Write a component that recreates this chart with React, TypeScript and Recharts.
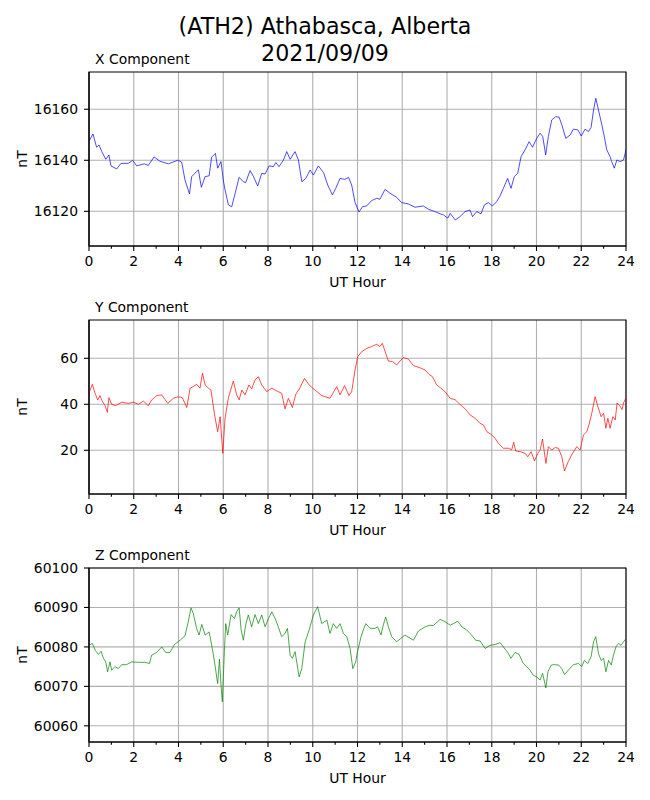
import React from 'react';
import { LineChart, Line, XAxis, YAxis, CartesianGrid, ReferenceArea } from 'recharts';

const FONT = '"DejaVu Sans", Verdana, sans-serif';

const hourTicks = [0, 1, 2, 3, 4, 5, 6, 7, 8, 9, 10, 11, 12, 13, 14, 15, 16, 17, 18, 19, 20, 21, 22, 23, 24];
const gridHours = [0, 2, 4, 6, 8, 10, 12, 14, 16, 18, 20, 22, 24];

const titleLines = ['(ATH2) Athabasca, Alberta', '2021/09/09'];

const xHours = [0, 0.18, 0.34, 0.45, 0.57, 0.75, 0.89, 0.98, 1.24, 1.43, 1.76, 1.95, 2.13, 2.47, 2.65, 2.91, 3.17, 3.55, 3.96, 4.14, 4.29, 4.49, 4.59, 4.81, 4.89, 5.02, 5.19, 5.37, 5.48, 5.65, 5.75, 5.9, 6.0, 6.08, 6.23, 6.38, 6.53, 6.71, 6.9, 7.0, 7.2, 7.35, 7.54, 7.72, 7.87, 8.05, 8.24, 8.35, 8.49, 8.68, 8.84, 8.99, 9.21, 9.36, 9.51, 9.69, 9.88, 10.03, 10.25, 10.48, 10.67, 10.88, 11.03, 11.22, 11.42, 11.6, 11.74, 11.89, 12.07, 12.22, 12.41, 12.63, 12.86, 13.0, 13.23, 13.45, 13.75, 13.97, 14.27, 14.57, 14.94, 15.17, 15.46, 15.69, 15.84, 16.04, 16.14, 16.37, 16.58, 16.81, 17.03, 17.14, 17.33, 17.52, 17.67, 17.85, 18.03, 18.22, 18.37, 18.52, 18.71, 18.86, 19.01, 19.16, 19.31, 19.49, 19.67, 19.82, 20.01, 20.16, 20.28, 20.41, 20.53, 20.68, 20.86, 21.01, 21.13, 21.31, 21.5, 21.65, 21.85, 22.0, 22.17, 22.32, 22.44, 22.55, 22.65, 22.77, 22.92, 23.03, 23.14, 23.29, 23.36, 23.48, 23.59, 23.74, 23.89, 24.0];
const xValues = [16147.5, 16150.3, 16145.1, 16146, 16143.4, 16140.4, 16142.1, 16137.8, 16136.6, 16138.8, 16138.8, 16140, 16137.8, 16138.6, 16138, 16141.3, 16139.6, 16138.6, 16140, 16139.3, 16132.3, 16126.8, 16133.6, 16135.6, 16136.2, 16129.4, 16133.6, 16133.9, 16141.2, 16142.7, 16136.9, 16139.5, 16132.3, 16128.4, 16122.5, 16121.8, 16127, 16133.3, 16131.6, 16131.2, 16136, 16133.6, 16129.9, 16134.9, 16134.6, 16137.8, 16137.5, 16139.1, 16137.5, 16139.9, 16143.4, 16140.4, 16143.4, 16140.1, 16131.6, 16132.9, 16136.2, 16134.2, 16137.8, 16135.2, 16130.3, 16126.4, 16129, 16132.9, 16132.5, 16133.3, 16130.3, 16123.5, 16119.7, 16121.8, 16122.1, 16124.2, 16125.1, 16124.7, 16128.6, 16127.1, 16125.5, 16123.4, 16122.9, 16121.6, 16122.1, 16120.8, 16119.9, 16119, 16118.6, 16117.3, 16119.2, 16116.6, 16117.9, 16119.9, 16120.5, 16117.9, 16119.9, 16119, 16122.5, 16123.4, 16122.1, 16123.8, 16126, 16129, 16132.9, 16129, 16133.6, 16134.9, 16141.4, 16144.1, 16147.3, 16145.1, 16148.6, 16150.6, 16149.3, 16142.1, 16149.3, 16155.8, 16157.1, 16156.9, 16153.9, 16148.6, 16149.9, 16152.2, 16151.9, 16149.5, 16152.2, 16151.2, 16152.9, 16159.7, 16164.3, 16159.7, 16153.9, 16149.3, 16144.1, 16141.4, 16139.5, 16136.9, 16140.1, 16139.5, 16140.1, 16144.1];

const yHours = [0, 0.15, 0.27, 0.39, 0.49, 0.6, 0.72, 0.82, 0.89, 1.01, 1.19, 1.46, 1.76, 1.98, 2.21, 2.43, 2.65, 2.8, 3.03, 3.25, 3.52, 3.77, 3.99, 4.17, 4.37, 4.52, 4.66, 4.81, 4.96, 5.07, 5.19, 5.34, 5.45, 5.6, 5.75, 5.86, 5.98, 6.08, 6.23, 6.45, 6.6, 6.71, 6.83, 6.97, 7.15, 7.27, 7.42, 7.57, 7.72, 7.94, 8.17, 8.39, 8.61, 8.76, 8.91, 9.09, 9.24, 9.43, 9.63, 9.84, 10.1, 10.4, 10.77, 11.07, 11.22, 11.42, 11.62, 11.74, 11.89, 12.01, 12.19, 12.41, 12.63, 12.86, 13.0, 13.11, 13.26, 13.38, 13.56, 13.75, 13.9, 14.05, 14.27, 14.5, 14.79, 15.02, 15.2, 15.35, 15.54, 15.73, 15.94, 16.14, 16.36, 16.58, 16.81, 17.03, 17.26, 17.48, 17.63, 17.78, 18.0, 18.15, 18.3, 18.52, 18.74, 18.89, 18.98, 19.07, 19.27, 19.49, 19.61, 19.76, 19.91, 20.06, 20.16, 20.27, 20.42, 20.53, 20.68, 20.83, 20.98, 21.13, 21.25, 21.42, 21.57, 21.8, 21.95, 22.1, 22.25, 22.35, 22.47, 22.62, 22.74, 22.89, 23.0, 23.1, 23.19, 23.29, 23.41, 23.52, 23.6, 23.74, 23.82, 23.89, 24.0];
const yValues = [45, 48.7, 44.8, 41.9, 43.8, 41.2, 39.4, 36.5, 42.9, 40, 39.4, 40.9, 40.4, 40.9, 40, 41.4, 39.4, 41.9, 43.8, 44.1, 40.4, 42.6, 43.3, 42.9, 38.6, 47, 47.7, 48.7, 47, 53.5, 48.4, 47, 46.2, 36.1, 28.1, 34.6, 18.7, 33.9, 42.9, 50.1, 44.1, 41.9, 46.2, 44.1, 48.4, 46.7, 50.6, 52, 48.4, 45.5, 47, 45.8, 44.8, 38, 42.6, 38.6, 44.3, 47.2, 51.3, 48.4, 46.2, 43.8, 42.6, 47.7, 44.1, 48.1, 43.8, 45.5, 54.9, 60.7, 62.9, 64.3, 65.1, 66.1, 65.1, 66.5, 62.2, 58.8, 58.6, 57.1, 58.8, 60.3, 59.7, 56.8, 55.9, 54.9, 53, 52, 48.4, 47, 45.2, 42.6, 42, 40, 38, 35.4, 33.9, 31.7, 31, 28.1, 26.7, 25.2, 23, 20.9, 20.9, 20.2, 23.5, 19.7, 19.4, 18.7, 17.2, 19.4, 15.4, 18.7, 20.1, 24.9, 14.3, 21.6, 20.1, 21.2, 20.9, 17.2, 11, 15.1, 18, 21.6, 20.1, 26.7, 28.1, 31.3, 36.1, 43.3, 39.1, 34.6, 36.1, 29.6, 33.9, 29.6, 34.6, 33.2, 40.6, 39.1, 37.7, 40.6, 42.9];

const zHours = [0, 0.15, 0.27, 0.42, 0.54, 0.64, 0.75, 0.83, 0.94, 1.01, 1.16, 1.31, 1.46, 1.68, 1.91, 2.21, 2.5, 2.7, 2.8, 3.03, 3.25, 3.43, 3.62, 3.82, 4.07, 4.29, 4.44, 4.56, 4.66, 4.81, 4.92, 5.04, 5.19, 5.37, 5.51, 5.63, 5.75, 5.83, 5.9, 5.96, 6.05, 6.11, 6.2, 6.35, 6.5, 6.6, 6.71, 6.8, 6.9, 7.0, 7.12, 7.27, 7.42, 7.57, 7.72, 7.87, 8.02, 8.17, 8.32, 8.46, 8.61, 8.76, 8.87, 8.99, 9.09, 9.21, 9.39, 9.51, 9.66, 9.84, 10.03, 10.22, 10.4, 10.63, 10.77, 10.92, 11.07, 11.22, 11.37, 11.52, 11.67, 11.79, 11.92, 12.0, 12.16, 12.26, 12.37, 12.56, 12.78, 12.9, 13.05, 13.15, 13.26, 13.38, 13.53, 13.75, 13.9, 14.12, 14.5, 14.72, 15.02, 15.24, 15.39, 15.69, 15.91, 16.14, 16.28, 16.48, 16.66, 16.88, 17.1, 17.28, 17.48, 17.7, 17.92, 18.15, 18.37, 18.52, 18.71, 18.86, 19.04, 19.22, 19.41, 19.56, 19.71, 19.86, 20.01, 20.16, 20.27, 20.42, 20.51, 20.66, 20.81, 20.99, 21.13, 21.25, 21.42, 21.65, 21.87, 22.02, 22.14, 22.29, 22.44, 22.55, 22.65, 22.77, 22.89, 23.0, 23.1, 23.22, 23.34, 23.44, 23.55, 23.67, 23.78, 23.89, 24.0];
const zValues = [60080.4, 60080.9, 60079.2, 60078.1, 60078.9, 60077.2, 60076.2, 60073.7, 60076.2, 60074.1, 60075, 60074.5, 60075.5, 60075.5, 60076.2, 60076.1, 60076.1, 60075.8, 60077.9, 60078.6, 60080, 60078.6, 60078.6, 60080.6, 60081.7, 60082.8, 60086.5, 60089.9, 60088.5, 60084.7, 60083, 60085.7, 60083, 60083.8, 60079.6, 60075.4, 60070.7, 60076.9, 60070.3, 60066.1, 60078.8, 60085.9, 60083, 60088.2, 60087.2, 60088.9, 60089.9, 60084.3, 60081.7, 60085.5, 60088.1, 60085.1, 60088.2, 60085.9, 60088.1, 60085.1, 60087.2, 60088.9, 60087.2, 60085.1, 60082.6, 60083.4, 60084.7, 60077.9, 60077.1, 60078.8, 60072.4, 60074.5, 60081.3, 60084.3, 60088.1, 60090.2, 60085.9, 60086.8, 60083.4, 60085.9, 60084.7, 60085.9, 60083.4, 60082.6, 60079.6, 60074.5, 60076.2, 60078.8, 60082.6, 60084.3, 60085.9, 60084.7, 60084.7, 60085.1, 60083, 60085.5, 60087.6, 60085.1, 60082.6, 60081.3, 60082, 60083, 60081.7, 60084, 60085.1, 60085.5, 60085.4, 60087, 60086.4, 60085.5, 60085.9, 60086.5, 60085.1, 60084.3, 60083, 60081.7, 60081.5, 60079.6, 60080.4, 60080.6, 60081.1, 60080, 60078.6, 60077.1, 60078.6, 60078.1, 60075.8, 60075, 60074.1, 60072.8, 60072.4, 60071.6, 60073.3, 60069.6, 60073.7, 60075.4, 60075.5, 60075.4, 60074.5, 60073, 60074.1, 60075.5, 60075.8, 60075, 60076.6, 60075.8, 60077.5, 60081.3, 60082.6, 60078.3, 60076.6, 60077.1, 60073.7, 60076.6, 60075.4, 60077.9, 60080, 60080.9, 60080.4, 60081.3, 60082.1];

const xTicks = [16120, 16140, 16160];
const yTicks = [20, 40, 60];
const zTicks = [60060, 60070, 60080, 60090, 60100];

const toRows = (hours: number[], values: number[]) => hours.map((h, i) => ({ h, v: values[i] }));

const panels = [
  { title: 'X Component', rows: toRows(xHours, xValues), color: '#0000ff', domain: [16106.4, 16174.6], ticks: xTicks, top: 0 },
  { title: 'Y Component', rows: toRows(yHours, yValues), color: '#ff0000', domain: [1.0, 76.65], ticks: yTicks, top: 248 },
  { title: 'Z Component', rows: toRows(zHours, zValues), color: '#008000', domain: [60055.9, 60100], ticks: zTicks, top: 496 },
];

const PLOT_TOP = 72;
const X_MARGIN = 10.5;
const AXIS = { stroke: '#000', strokeWidth: 1.1 };
const TEXT_STYLE = { fontSize: 13.9, fill: '#000', fontFamily: FONT };

const HourTick = (props: any) => {
  const { x, y, payload } = props;
  const base = y - X_MARGIN;
  const v = payload.value;
  const major = v % 2 === 0;
  return (
    <g>
      <line x1={x} x2={x} y1={base} y2={base + (major ? 4.9 : 2.8)} stroke="#000" strokeWidth={1.1} />
      {major && (
        <text x={x} y={y} dy="0.71em" textAnchor="middle" fontSize={13.9} fill="#000" fontFamily={FONT}>
          {v}
        </text>
      )}
    </g>
  );
};

export default function App() {
  return (
    <div style={{ position: 'absolute', left: 0, top: 0, width: 650, height: 800, background: '#fff', fontFamily: FONT }}>
      {panels.map((p) => (
        <div key={p.title} style={{ position: 'absolute', left: 0, top: p.top, width: 650, height: 296 }}>
          <LineChart width={650} height={296} data={p.rows} margin={{ top: PLOT_TOP, right: 24, bottom: 0, left: 0 }}>
            <CartesianGrid stroke="#b0b0b0" strokeWidth={1.1} verticalValues={gridHours} horizontalValues={p.ticks} />
            <XAxis
              dataKey="h"
              type="number"
              domain={[0, 24]}
              allowDataOverflow
              ticks={hourTicks}
              interval={0}
              height={50}
              tickSize={0}
              tickMargin={X_MARGIN}
              tickLine={false}
              axisLine={AXIS}
              tick={<HourTick />}
              label={{ value: 'UT Hour', position: 'insideBottom', offset: 9, style: TEXT_STYLE }}
            />
            <YAxis
              type="number"
              domain={p.domain}
              allowDataOverflow
              ticks={p.ticks}
              interval={0}
              width={89}
              tickSize={5}
              tickMargin={6}
              tickLine={AXIS}
              axisLine={AXIS}
              tick={TEXT_STYLE}
              label={{ value: 'nT', angle: -90, position: 'insideLeft', offset: 22, style: { ...TEXT_STYLE, textAnchor: 'middle' } }}
            />
            <Line
              dataKey="v"
              type="linear"
              stroke={p.color}
              strokeWidth={0.7}
              dot={false}
              activeDot={false}
              isAnimationActive={false}
            />
            <ReferenceArea
              x1={0}
              x2={24}
              y1={p.domain[0]}
              y2={p.domain[1]}
              fill="none"
              fillOpacity={0}
              stroke="#000"
              strokeWidth={1.1}
              ifOverflow="visible"
            />
          </LineChart>
        </div>
      ))}
      <svg width={650} height={800} style={{ position: 'absolute', left: 0, top: 0, pointerEvents: 'none' }}>
        <text x={325} y={34} textAnchor="middle" fontSize={22.2} fill="#000" fontFamily={FONT}>{titleLines[0]}</text>
        <text x={325} y={60.6} textAnchor="middle" fontSize={22.2} fill="#000" fontFamily={FONT}>{titleLines[1]}</text>
        {panels.map((p) => (
          <text key={p.title} x={95} y={p.top + PLOT_TOP - 8.5} fontSize={13.9} fill="#000" fontFamily={FONT}>{p.title}</text>
        ))}
      </svg>
    </div>
  );
}
